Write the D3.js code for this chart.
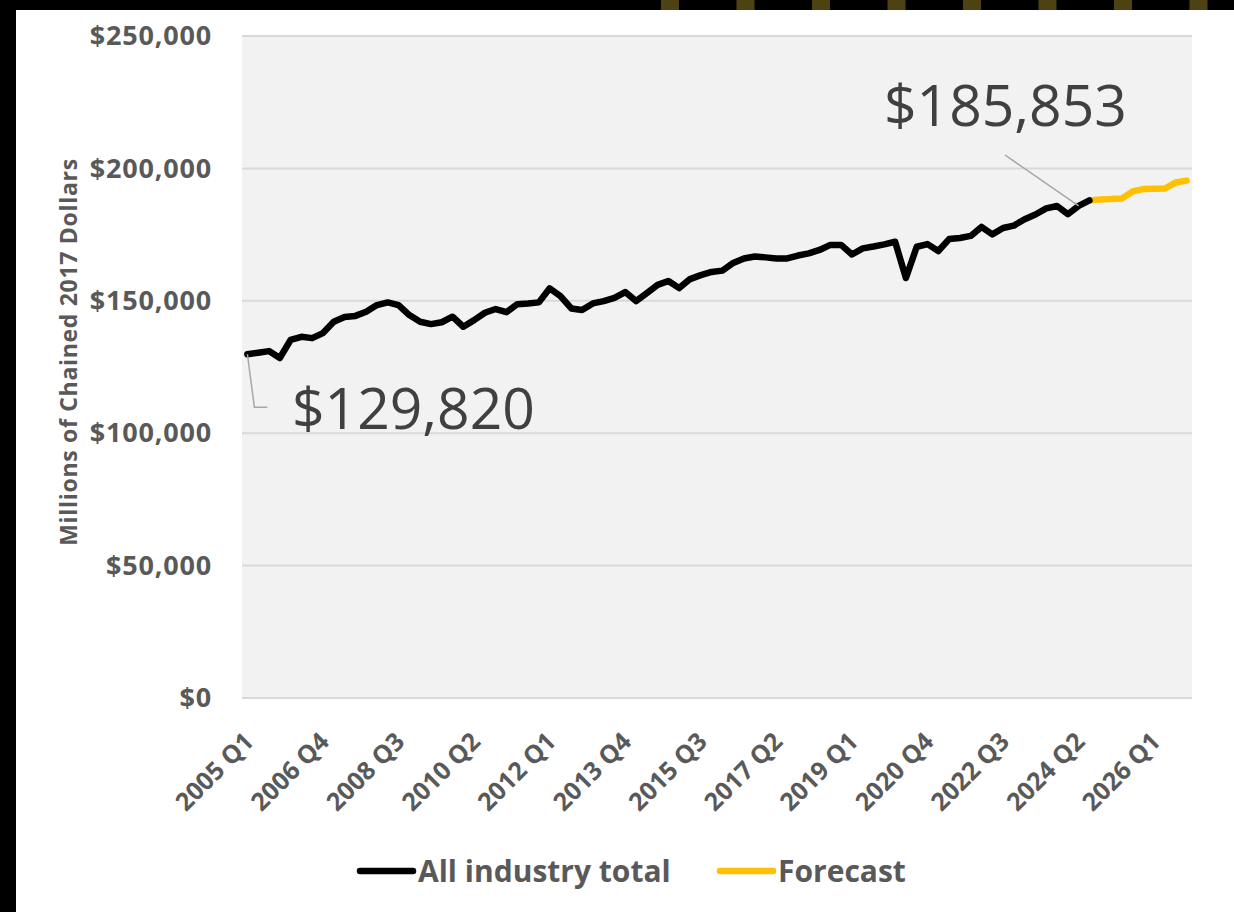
<!DOCTYPE html>
<html>
<head>
<meta charset="utf-8">
<script src="https://cdn.jsdelivr.net/npm/d3@7"></script>
<style>
  body { margin: 0; background: #000; }
  svg { display: block; }
</style>
</head>
<body>
<svg id="container"></svg>
<script>
// quarterly categories 2005 Q1 .. 2026 Q4
var quarters = [];
for (var yr = 2005; yr <= 2026; yr++) {
	for (var q = 1; q <= 4; q++) quarters.push(yr + " Q" + q);
}

const tickLabels = ["2005 Q1", "2006 Q4", "2008 Q3", "2010 Q2", "2012 Q1", "2013 Q4", "2015 Q3",
	"2017 Q2", "2019 Q1", "2020 Q4", "2022 Q3", "2024 Q2", "2026 Q1"];

const yTicks = [0, 50000, 100000, 150000, 200000, 250000];

// All industry total, 2005 Q1 .. 2024 Q3
const actual = [129820, 130400, 131000, 128400, 135200, 136400, 135900, 137800, 142100, 143900,
	144300, 145900, 148400, 149400, 148400, 144600, 142100, 141200, 141900, 144000,
	140200, 142700, 145500, 146900, 145700, 148700, 149000, 149400, 154700, 151800,
	147100, 146500, 149000, 149900, 151100, 153300, 149900, 152900, 156000, 157500,
	154800, 158200, 159700, 160900, 161400, 164300, 166000, 166700, 166400, 166000,
	166000, 167100, 167900, 169200, 171100, 171100, 167500, 169800, 170500, 171300,
	172300, 158600, 170400, 171400, 168800, 173300, 173700, 174500, 177900, 175100,
	177500, 178400, 180800, 182600, 184900, 185800, 182700, 185853, 187900];

// Forecast, 2024 Q3 .. 2026 Q4
const forecastStart = "2024 Q3";
const forecast = [187900, 188300, 188400, 188600, 191300, 192200, 192300, 192400, 194700, 195400];

const W = 1234, H = 912;
const plot = {left: 242, right: 1192, top: 36, bottom: 698};

var svg = d3.select("#container")
	.attr("width", W)
	.attr("height", H);

// frame: black page, white sheet, olive marks on the top strip
svg.append("rect").attr("width", W).attr("height", H).attr("fill", "#000");
svg.append("rect").attr("x", 16).attr("y", 10).attr("width", W - 16).attr("height", H - 10).attr("fill", "#fff");
d3.range(8).forEach(function(k) {
	svg.append("rect")
		.attr("x", 661 + k * 75.5).attr("y", 0)
		.attr("width", 18).attr("height", 10)
		.attr("fill", "#4d4312");
});

var xScale = d3.scalePoint().domain(quarters).range([plot.left, plot.right]).padding(0.5);
var yScale = d3.scaleLinear().domain([0, 250000]).range([plot.bottom, plot.top]);

svg.append("rect")
	.attr("x", plot.left).attr("y", plot.top)
	.attr("width", plot.right - plot.left).attr("height", plot.bottom - plot.top)
	.attr("fill", "#f2f2f2");

// gridlines
svg.append("g").selectAll("line")
	.data(yTicks)
	.enter()
	.append("line")
	.attr("x1", plot.left).attr("x2", plot.right)
	.attr("y1", d => yScale(d)).attr("y2", d => yScale(d))
	.attr("stroke", "#d9d9d9")
	.attr("stroke-width", 2);

// y axis
var yAxis = d3.axisLeft(yScale)
	.tickValues(yTicks)
	.tickSize(0)
	.tickPadding(30)
	.tickFormat(d => "$" + d3.format(",")(d));

var gY = svg.append("g")
	.attr("transform", "translate(" + plot.left + ",0)")
	.call(yAxis);
gY.select(".domain").remove();
gY.selectAll("text")
	.attr("font-family", "Open Sans")
	.attr("font-weight", "bold")
	.attr("font-size", 27)
	.attr("letter-spacing", 0.8)
	.attr("fill", "#595959");

svg.append("text")
	.attr("transform", "translate(77,352) rotate(-90)")
	.attr("text-anchor", "middle")
	.attr("font-family", "Open Sans")
	.attr("font-weight", "bold")
	.attr("font-size", 23)
	.attr("letter-spacing", 0.7)
	.attr("fill", "#595959")
	.text("Millions of Chained 2017 Dollars");

// x axis
var xAxis = d3.axisBottom(xScale)
	.tickValues(tickLabels)
	.tickSize(0)
	.tickPadding(0);

var gX = svg.append("g")
	.attr("transform", "translate(0," + plot.bottom + ")")
	.call(xAxis);
gX.select(".domain").remove();
gX.selectAll("text")
	.attr("font-family", "Open Sans")
	.attr("font-weight", "bold")
	.attr("font-size", 25)
	.attr("fill", "#595959")
	.attr("text-anchor", "end")
	.attr("dy", "0.35em")
	.attr("transform", "translate(1,39) rotate(-45)");

// lines
var actualData = actual.map((v, i) => ({q: quarters[i], v: v}));
var f0 = quarters.indexOf(forecastStart);
var forecastData = forecast.map((v, i) => ({q: quarters[f0 + i], v: v}));

var line = d3.line()
	.x(d => xScale(d.q))
	.y(d => yScale(d.v));

svg.append("path")
	.datum(forecastData)
	.attr("d", line)
	.attr("fill", "none")
	.attr("stroke", "#ffc000")
	.attr("stroke-width", 6.5)
	.attr("stroke-linejoin", "round")
	.attr("stroke-linecap", "round");

svg.append("path")
	.datum(actualData)
	.attr("d", line)
	.attr("fill", "none")
	.attr("stroke", "#000")
	.attr("stroke-width", 6.5)
	.attr("stroke-linejoin", "round")
	.attr("stroke-linecap", "round");

// data labels with leader lines
var first = actualData[0];
var px = xScale(first.q), py = yScale(first.v);
svg.append("polyline")
	.attr("points", [[px, py], [px + 7, py + 53], [px + 20, py + 53]].join(" "))
	.attr("fill", "none")
	.attr("stroke", "#a6a6a6")
	.attr("stroke-width", 1.5);
svg.append("text")
	.attr("x", 292).attr("y", 429)
	.attr("font-family", "Open Sans")
	.attr("font-size", 57)
	.attr("fill", "#404040")
	.text("$" + d3.format(",")(first.v));

var last = actualData[actual.indexOf(185853)];
var lx = xScale(last.q), ly = yScale(last.v);
svg.append("line")
	.attr("x1", 1005).attr("y1", 155)
	.attr("x2", lx).attr("y2", ly)
	.attr("stroke", "#a6a6a6")
	.attr("stroke-width", 1.5);
svg.append("text")
	.attr("x", 884).attr("y", 126)
	.attr("font-family", "Open Sans")
	.attr("font-size", 57)
	.attr("fill", "#404040")
	.text("$" + d3.format(",")(last.v));

// legend
var legend = [
	{name: "All industry total", color: "#000", x: 357},
	{name: "Forecast", color: "#ffc000", x: 717}
];
var lg = svg.append("g").selectAll("g")
	.data(legend)
	.enter()
	.append("g")
	.attr("transform", d => "translate(" + d.x + ",871)");
lg.append("line")
	.attr("x1", 3).attr("x2", 56)
	.attr("stroke", d => d.color)
	.attr("stroke-width", 6.5)
	.attr("stroke-linecap", "round");
lg.append("text")
	.attr("x", 61)
	.attr("dy", "0.35em")
	.attr("font-family", "Open Sans")
	.attr("font-weight", "bold")
	.attr("font-size", 30)
	.attr("fill", "#595959")
	.text(d => d.name);
</script>
</body>
</html>
